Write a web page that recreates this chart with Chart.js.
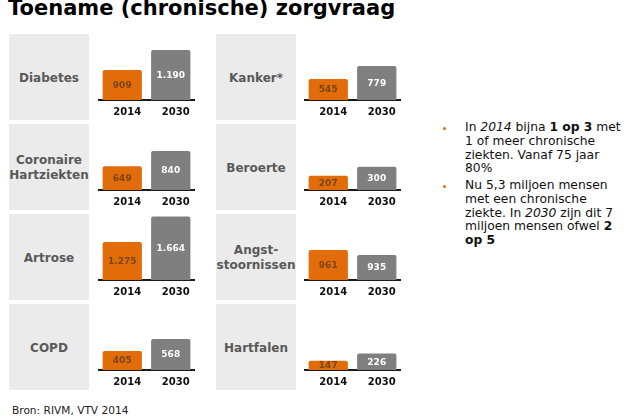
<!DOCTYPE html>
<html>
<head>
<meta charset="utf-8">
<script src="https://cdn.jsdelivr.net/npm/chart.js@4"></script>
<style>
  html, body { margin: 0; padding: 0; background: #fff; }
  body { width: 635px; height: 419px; position: relative; overflow: hidden; font-family: "DejaVu Sans", Verdana, sans-serif; }
  .title { position: absolute; left: 8px; top: -2px; font-size: 21px; font-weight: bold; line-height: 21px; color: #000; white-space: nowrap; }
  .box { position: absolute; width: 80px; height: 86px; background: #ebebeb; display: flex; align-items: center; justify-content: center; }
  .box span { font-size: 12px; font-weight: bold; color: #595959; text-align: center; line-height: 15px; white-space: pre; padding-top: 2px; }
  canvas { position: absolute; }
  .notes { position: absolute; left: 465px; font-size: 12.3px; line-height: 13.8px; color: #111; white-space: nowrap; }
  .dot { position: absolute; width: 3px; height: 3px; border-radius: 50%; background: #e36c0a; }
  .src { position: absolute; left: 12px; top: 404px; font-size: 10.6px; color: #222; white-space: nowrap; }
</style>
</head>
<body>
<div class="title">Toename (chronische) zorgvraag</div>
<div id="panels"></div>

<div class="dot" style="left:443px; top:127px;"></div>
<div class="notes" style="top:121px;">In <i>2014</i> bijna <b>1 op 3</b> met<br>1 of meer chronische<br>ziekten. Vanaf 75 jaar<br>80%</div>
<div class="dot" style="left:443px; top:185px;"></div>
<div class="notes" style="top:179px;">Nu 5,3 miljoen mensen<br>met een chronische<br>ziekte. In <i>2030</i> zijn dit 7<br>miljoen mensen ofwel <b>2</b><br><b>op 5</b></div>

<div class="src">Bron: RIVM, VTV 2014</div>

<script>
const diseases = ['Diabetes', 'Kanker*', 'Coronaire\nHartziekten', 'Beroerte', 'Artrose', 'Angst-\nstoornissen', 'COPD', 'Hartfalen'];
const years = ['2014', '2030'];
const values2014 = [909, 545, 649, 207, 1275, 961, 405, 147];
const values2030 = [1190, 779, 840, 300, 1664, 935, 568, 226];
// each panel in the original has its own (hidden) value axis
const axisMin = [488, 167, 353, 59, 698, 805, 147, 46];
const axisMax = [1387, 1319, 1152, 720, 1670, 1138, 1016, 739];

const barColors = ['#e36c0a', '#7f7f7f'];
const valueColors = ['#7a4516', '#ffffff'];
const rowTops = [34, 124, 214, 304];
const boxLefts = [9, 216];
const chartLefts = [98, 304];

function fmt(v) {
  return String(v).replace(/\B(?=(\d{3})+(?!\d))/g, '.');
}

const valueLabels = {
  id: 'valueLabels',
  afterDatasetsDraw(chart) {
    const ctx = chart.ctx;
    const meta = chart.getDatasetMeta(0);
    const bottom = chart.chartArea.bottom;
    ctx.save();
    ctx.font = 'bold 9px "DejaVu Sans"';
    ctx.textAlign = 'center';
    ctx.textBaseline = 'middle';
    meta.data.forEach((bar, i) => {
      ctx.fillStyle = valueColors[i];
      ctx.fillText(fmt(chart.data.datasets[0].data[i]), bar.x, (bar.y + bottom) / 2 + 0.5);
    });
    ctx.restore();
  }
};

const panels = document.getElementById('panels');

diseases.forEach((name, i) => {
  const col = i % 2;
  const row = Math.floor(i / 2);

  const box = document.createElement('div');
  box.className = 'box';
  box.style.left = boxLefts[col] + 'px';
  box.style.top = rowTops[row] + 'px';
  const span = document.createElement('span');
  span.textContent = name;
  box.appendChild(span);
  panels.appendChild(box);

  const cv = document.createElement('canvas');
  cv.width = 97;
  cv.height = 86;
  cv.style.left = chartLefts[col] + 'px';
  cv.style.top = rowTops[row] + 'px';
  panels.appendChild(cv);

  new Chart(cv, {
    type: 'bar',
    data: {
      labels: years,
      datasets: [{
        data: [values2014[i], values2030[i]],
        backgroundColor: barColors,
        borderRadius: 2,
        barPercentage: 0.81,
        categoryPercentage: 1
      }]
    },
    options: {
      responsive: false,
      animation: false,
      layout: { padding: { top: 2, left: 0, right: 0, bottom: 0 } },
      plugins: { legend: { display: false }, tooltip: { enabled: false } },
      scales: {
        x: {
          z: 1,
          grid: { display: false, drawTicks: false },
          border: { display: true, color: '#1a1a1a', width: 2 },
          ticks: {
            color: '#111',
            padding: 6,
            labelOffset: 5,
            font: { family: 'DejaVu Sans', size: 10, weight: 'bold' }
          },
          afterFit(scale) { scale.height = 20; }
        },
        y: {
          display: false,
          min: axisMin[i],
          max: axisMax[i]
        }
      }
    },
    plugins: [valueLabels]
  });
});
</script>
</body>
</html>
